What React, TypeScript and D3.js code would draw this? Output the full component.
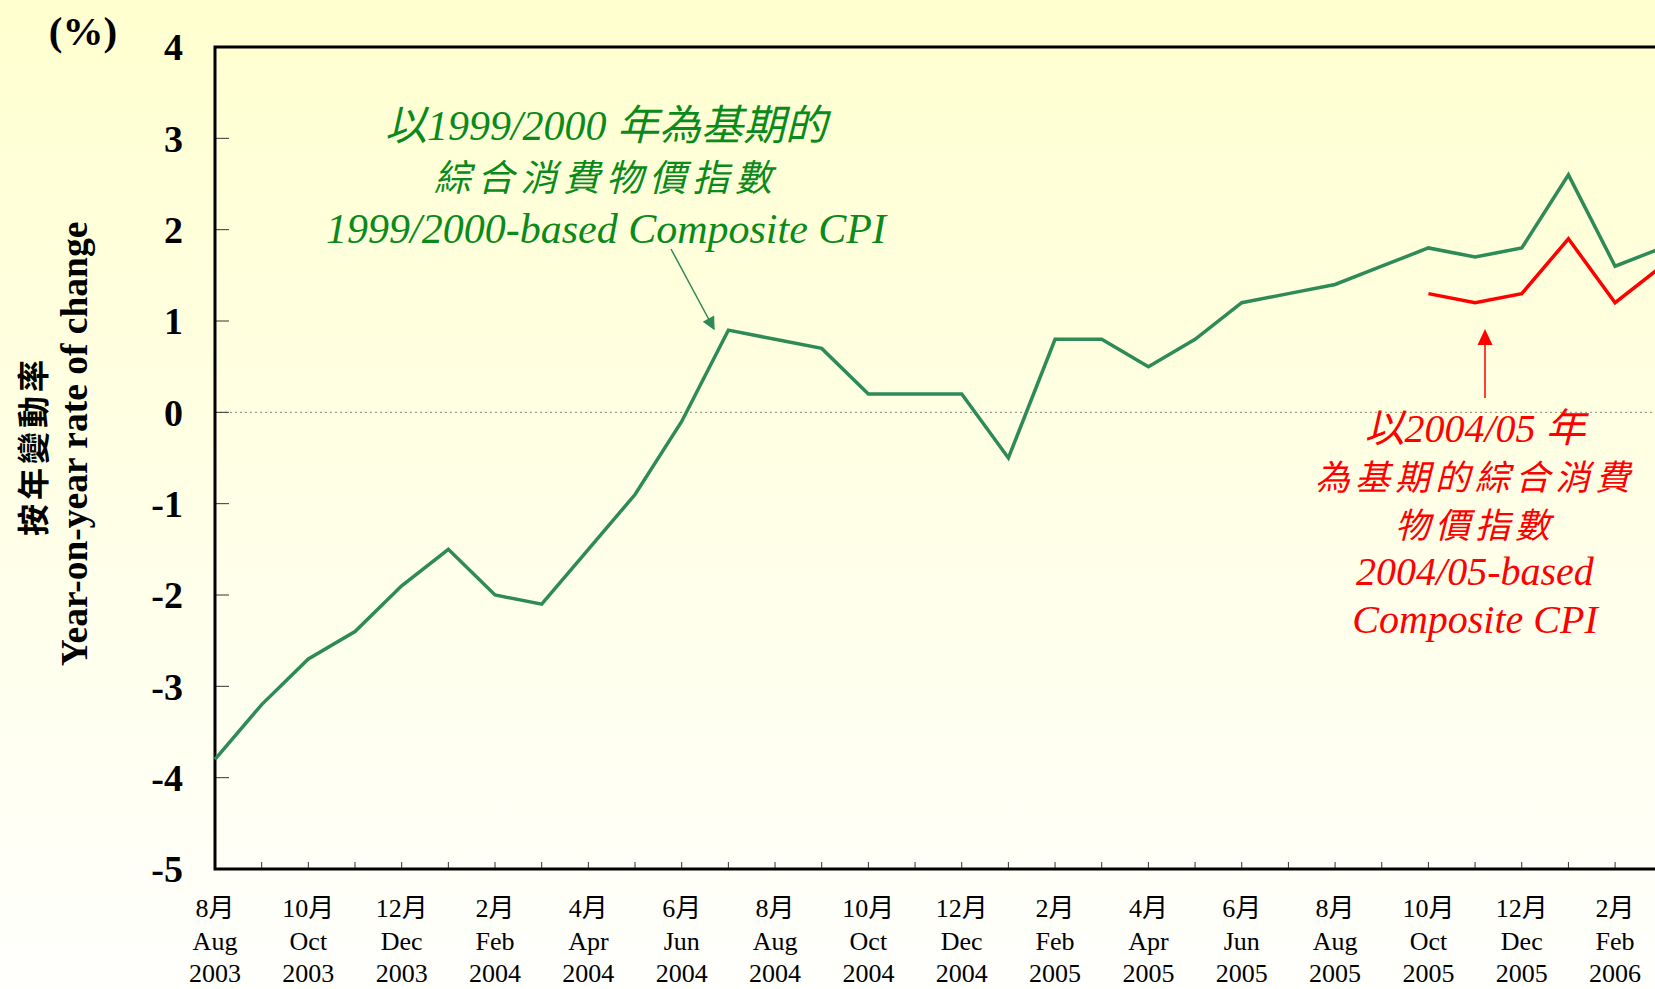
import React, { useRef, useEffect } from "react";
import * as d3 from "d3";

const months = [
  "2003-08", "2003-09", "2003-10", "2003-11", "2003-12",
  "2004-01", "2004-02", "2004-03", "2004-04", "2004-05", "2004-06",
  "2004-07", "2004-08", "2004-09", "2004-10", "2004-11", "2004-12",
  "2005-01", "2005-02", "2005-03", "2005-04", "2005-05", "2005-06",
  "2005-07", "2005-08", "2005-09", "2005-10", "2005-11", "2005-12",
  "2006-01", "2006-02", "2006-03",
];

// 1999/2000-based Composite CPI, year-on-year % change
const oldBase = [
  -3.8, -3.2, -2.7, -2.4, -1.9,
  -1.5, -2.0, -2.1, -1.5, -0.9, -0.1,
  0.9, 0.8, 0.7, 0.2, 0.2, 0.2,
  -0.5, 0.8, 0.8, 0.5, 0.8, 1.2,
  1.3, 1.4, 1.6, 1.8, 1.7, 1.8,
  2.6, 1.6, 1.8,
];

// 2004/05-based Composite CPI (from Oct 2005)
const newBaseMonths = ["2005-10", "2005-11", "2005-12", "2006-01", "2006-02", "2006-03"];
const newBase = [1.3, 1.2, 1.3, 1.9, 1.2, 1.6];

const tickMonthsZh = ["8月", "10月", "12月", "2月", "4月", "6月", "8月", "10月", "12月", "2月", "4月", "6月", "8月", "10月", "12月", "2月"];
const tickMonthsEn = ["Aug", "Oct", "Dec", "Feb", "Apr", "Jun", "Aug", "Oct", "Dec", "Feb", "Apr", "Jun", "Aug", "Oct", "Dec", "Feb"];
const tickYears = ["2003", "2003", "2003", "2004", "2004", "2004", "2004", "2004", "2004", "2005", "2005", "2005", "2005", "2005", "2005", "2006"];
const yTicks = [4, 3, 2, 1, 0, -1, -2, -3, -4, -5];

const greenNote = ["以1999/2000 年為基期的", "綜合消費物價指數", "1999/2000-based Composite CPI"];
const redNote = ["以2004/05 年", "為基期的綜合消費", "物價指數", "2004/05-based", "Composite CPI"];

const W = 1655;
const H = 989;
const SERIF = "'Liberation Serif', 'Times New Roman', serif";
const MIXED = "'Liberation Serif', 'Noto Sans CJK TC', serif";

const CpiChart = () => {
  const svgRef = useRef(null);

  useEffect(() => {
    const svg = d3.select(svgRef.current);
    svg.selectAll("*").remove();

    const margin = { top: 47, left: 215, bottom: 869 };
    const step = 46.67;

    const x = d3
      .scalePoint()
      .domain(months)
      .range([margin.left, margin.left + step * (months.length - 1)]);
    const y = d3.scaleLinear().domain([-5, 4]).range([margin.bottom, margin.top]);

    // background
    const defs = svg.append("defs");
    const grad = defs
      .append("linearGradient")
      .attr("id", "bg")
      .attr("x1", 0)
      .attr("y1", 0)
      .attr("x2", 0)
      .attr("y2", 1);
    grad.append("stop").attr("offset", "0%").attr("stop-color", "#ffffd0");
    grad.append("stop").attr("offset", "100%").attr("stop-color", "#fffffd");
    svg.append("rect").attr("width", W).attr("height", H).attr("fill", "url(#bg)");

    defs
      .append("marker")
      .attr("id", "headGreen")
      .attr("viewBox", "0 0 10 10")
      .attr("refX", 9)
      .attr("refY", 5)
      .attr("markerWidth", 16)
      .attr("markerHeight", 13)
      .attr("markerUnits", "userSpaceOnUse")
      .attr("orient", "auto")
      .append("path")
      .attr("d", "M0,0 L10,5 L0,10 Z")
      .attr("fill", "#2e8b57");

    // zero line
    svg
      .append("line")
      .attr("x1", margin.left)
      .attr("x2", W + 10)
      .attr("y1", y(0))
      .attr("y2", y(0))
      .attr("stroke", "#888")
      .attr("stroke-width", 1)
      .attr("stroke-dasharray", "2,3");

    // y ticks (inside)
    svg
      .append("g")
      .selectAll("line")
      .data(yTicks)
      .join("line")
      .attr("x1", margin.left)
      .attr("x2", margin.left + 14)
      .attr("y1", (d) => y(d))
      .attr("y2", (d) => y(d))
      .attr("stroke", "#333")
      .attr("stroke-width", 1);

    svg
      .append("g")
      .selectAll("text")
      .data(yTicks)
      .join("text")
      .attr("x", 183)
      .attr("y", (d) => y(d))
      .attr("dy", "0.35em")
      .attr("text-anchor", "end")
      .attr("font-family", SERIF)
      .attr("font-weight", "bold")
      .attr("font-size", 38)
      .attr("fill", "#000")
      .text((d) => d);

    // x ticks every month (inside)
    svg
      .append("g")
      .selectAll("line")
      .data(months.slice(1))
      .join("line")
      .attr("x1", (d) => x(d))
      .attr("x2", (d) => x(d))
      .attr("y1", margin.bottom)
      .attr("y2", margin.bottom - 7)
      .attr("stroke", "#333")
      .attr("stroke-width", 1);

    const labelled = months.filter((_, i) => i % 2 === 0).slice(0, tickMonthsEn.length);
    const xl = svg.append("g").attr("font-family", MIXED).attr("font-size", 26).attr("fill", "#000").attr("text-anchor", "middle");
    labelled.forEach((m, i) => {
      xl.append("text").attr("x", x(m)).attr("y", 917).text(tickMonthsZh[i]);
      xl.append("text").attr("x", x(m)).attr("y", 950).text(tickMonthsEn[i]);
      xl.append("text").attr("x", x(m)).attr("y", 982).text(tickYears[i]);
    });

    // frame
    svg
      .append("path")
      .attr("d", `M${W + 10},${margin.top} H${margin.left} V${margin.bottom} H${W + 10}`)
      .attr("fill", "none")
      .attr("stroke", "#000")
      .attr("stroke-width", 3);

    // series
    const line = d3
      .line()
      .x((d) => d[0])
      .y((d) => d[1]);

    svg
      .append("path")
      .attr("d", line(months.map((m, i) => [x(m), y(oldBase[i])])))
      .attr("fill", "none")
      .attr("stroke", "#2e8b57")
      .attr("stroke-width", 3.5)
      .attr("stroke-linejoin", "miter");

    svg
      .append("path")
      .attr("d", line(newBaseMonths.map((m, i) => [x(m), y(newBase[i])])))
      .attr("fill", "none")
      .attr("stroke", "#ff0000")
      .attr("stroke-width", 3.5)
      .attr("stroke-linejoin", "miter");

    // green annotation
    const gN = svg
      .append("g")
      .attr("font-family", MIXED)
      .attr("font-style", "italic")
      .attr("fill", "#0a8a1a")
      .attr("text-anchor", "middle");
    [140, 191, 243].forEach((yy, i) => {
      gN.append("text")
        .attr("x", 606)
        .attr("y", yy)
        .attr("font-size", i === 1 ? 37 : 42)
        .attr("letter-spacing", i === 1 ? 6 : 0)
        .text(greenNote[i]);
    });
    svg
      .append("line")
      .attr("x1", 671)
      .attr("y1", 249)
      .attr("x2", 714)
      .attr("y2", 329)
      .attr("stroke", "#2e8b57")
      .attr("stroke-width", 1.5)
      .attr("marker-end", "url(#headGreen)");

    // red annotation
    const rN = svg
      .append("g")
      .attr("font-family", MIXED)
      .attr("font-style", "italic")
      .attr("fill", "#ff0000")
      .attr("text-anchor", "middle");
    [442, 490, 538, 585, 633].forEach((yy, i) => {
      rN.append("text")
        .attr("x", 1475)
        .attr("y", yy)
        .attr("font-size", i === 1 || i === 2 ? 35 : 40)
        .attr("letter-spacing", i === 1 || i === 2 ? 5 : 0)
        .text(redNote[i]);
    });
    svg
      .append("line")
      .attr("x1", 1485)
      .attr("y1", 398)
      .attr("x2", 1485)
      .attr("y2", 344)
      .attr("stroke", "#ff0000")
      .attr("stroke-width", 1.5);
    svg
      .append("path")
      .attr("d", "M1485,329 L1477.5,345 L1492.5,345 Z")
      .attr("fill", "#ff0000");

    // axis titles
    svg
      .append("text")
      .attr("x", 83)
      .attr("y", 45)
      .attr("text-anchor", "middle")
      .attr("font-family", SERIF)
      .attr("font-weight", "bold")
      .attr("font-size", 41)
      .text("(%)");

    svg
      .append("text")
      .attr("transform", "translate(45,446) rotate(-90)")
      .attr("text-anchor", "middle")
      .attr("font-family", "'Noto Sans CJK TC', sans-serif")
      .attr("font-weight", "bold")
      .attr("font-size", 32)
      .attr("letter-spacing", 4)
      .text("按年變動率");

    svg
      .append("text")
      .attr("transform", "translate(87,444) rotate(-90)")
      .attr("text-anchor", "middle")
      .attr("font-family", SERIF)
      .attr("font-weight", "bold")
      .attr("font-size", 37.5)
      .text("Year-on-year rate of change");
  }, []);

  return (
    <svg
      ref={svgRef}
      width={W}
      height={H}
      style={{ position: "absolute", left: 0, top: 0, display: "block" }}
    ></svg>
  );
};

export default function App() {
  return <CpiChart />;
}
